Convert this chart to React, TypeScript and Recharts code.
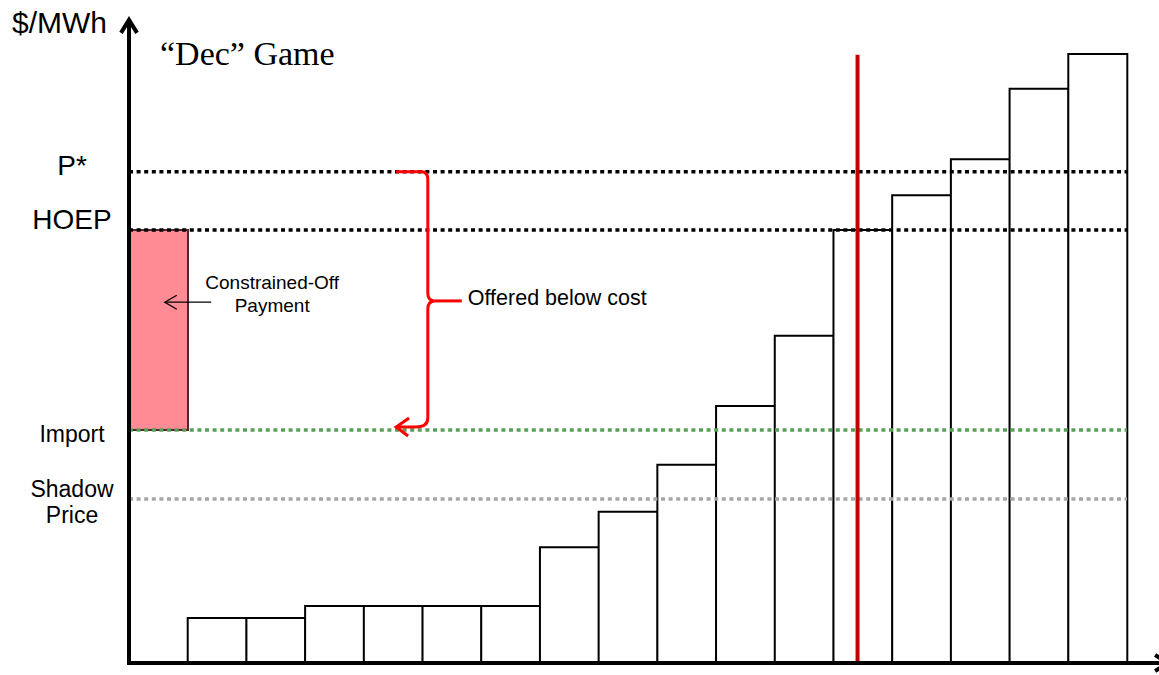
import React from "react";
import { BarChart, Bar, Cell, XAxis, YAxis, ReferenceLine } from "recharts";

// offer blocks, left to right (first one is the import's constrained-off block)
const BLOCKS = ["1", "2", "3", "4", "5", "6", "7", "8", "9", "10", "11", "12", "13", "14", "15", "16", "17"];
const BLOCK_LOW = [36.8, 0, 0, 0, 0, 0, 0, 0, 0, 0, 0, 0, 0, 0, 0, 0, 0];
const BLOCK_HIGH = [68.4, 7.1, 7.1, 9.0, 9.0, 9.0, 9.0, 18.3, 23.9, 31.3, 40.6, 51.7, 68.4, 73.9, 79.6, 90.7, 96.2];

// price levels on the y axis
const LEVEL_NAMES = ["P*", "HOEP", "Import", "Shadow Price"];
const LEVEL_VALUES = [77.6, 68.4, 36.8, 25.9];

const DISPATCH_X = 12.41; // red line position, in blocks
const DISPATCH_TOP = 96.1;
const BRACE_X = [4.55, 5.09];
const PAYMENT_ARROW = [0.61, 1.4];
const PAYMENT_Y = 57.0;

const TITLE = "\u201CDec\u201D Game";
const Y_UNIT = "$/MWh";
const BRACE_LABEL = "Offered below cost";
const PAYMENT_LABEL = ["Constrained-Off", "Payment"];

const SANS = "'Liberation Sans', Arial, sans-serif";
const LEVEL_COLORS = ["#000000", "#000000", "#5a9e5a", "#a6a6a6"];
const LEVEL_FONT = [28, 28, 23, 23];
const LEVEL_DY = [3, -1, 12, -2];

const data = BLOCKS.map((name, i) => ({
  name,
  pos: i + 0.5,
  base: BLOCK_LOW[i],
  span: BLOCK_HIGH[i] - BLOCK_LOW[i],
}));

const LevelTick = (props: any) => {
  const { y, payload } = props;
  const i = LEVEL_VALUES.indexOf(payload.value);
  if (i < 0) return <g />;
  const words = LEVEL_NAMES[i].split(" ");
  return (
    <text
      x={73}
      y={y + LEVEL_DY[i]}
      textAnchor="middle"
      fontSize={LEVEL_FONT[i]}
      fontFamily={SANS}
      fill="#000"
    >
      {words.map((w, k) => (
        <tspan key={k} x={72} dy={k === 0 ? 0 : 26}>
          {w}
        </tspan>
      ))}
    </text>
  );
};

const YAxisArrow = (p: any) => (
  <g>
    <line x1={p.x1} y1={p.y1 + 2} x2={p.x2} y2={p.y2 + 2} stroke="#000" strokeWidth={4} />
    <polyline
      points={`${p.x2 - 8},${p.y2 + 13} ${p.x2},${p.y2} ${p.x2 + 8},${p.y2 + 13}`}
      fill="none"
      stroke="#000"
      strokeWidth={4}
    />
  </g>
);

const XAxisArrow = (p: any) => (
  <g>
    <line x1={p.x1 - 2} y1={p.y1} x2={p.x2 - 2} y2={p.y2} stroke="#000" strokeWidth={4} />
    <polyline
      points={`${p.x2 - 13},${p.y2 - 8} ${p.x2},${p.y2} ${p.x2 - 13},${p.y2 + 8}`}
      fill="none"
      stroke="#000"
      strokeWidth={4}
    />
  </g>
);

const Brace = (p: any) => {
  const x1 = p.x1;
  const top = p.y1;
  const x2 = p.x2;
  const bot = p.y2;
  const mid = (top + bot) / 2;
  const d =
    `M ${x1} ${top} H ${x2 - 6} Q ${x2} ${top} ${x2} ${top + 8} ` +
    `V ${mid - 8} Q ${x2} ${mid} ${x2 + 7} ${mid} Q ${x2} ${mid} ${x2} ${mid + 8} ` +
    `V ${bot - 12} Q ${x2} ${bot - 3} ${x2 - 12} ${bot - 3} L ${x1} ${bot - 3}`;
  return (
    <g>
      <path d={d} fill="none" stroke="#ff0000" strokeWidth={3} />
      <path d={`M ${x2 + 7} ${mid} H ${x2 + 34}`} stroke="#ff0000" strokeWidth={3} />
      <polyline
        points={`${x1 + 13},${bot - 12} ${x1},${bot - 3} ${x1 + 12},${bot + 6}`}
        fill="none"
        stroke="#ff0000"
        strokeWidth={3}
      />
      <text x={x2 + 40} y={mid + 4} fontSize={21.5} fontFamily={SANS} fill="#000">
        {BRACE_LABEL}
      </text>
    </g>
  );
};

const PaymentArrow = (p: any) => {
  const tip = p.x1;
  const tail = p.x2;
  const y = p.y1;
  return (
    <g>
      <line x1={tail} y1={y} x2={tip} y2={y} stroke="#000" strokeWidth={1.3} />
      <polyline
        points={`${tip + 12},${y - 7} ${tip},${y} ${tip + 12},${y + 7}`}
        fill="none"
        stroke="#000"
        strokeWidth={1.3}
      />
      <text x={tail + 61} y={y - 13} textAnchor="middle" fontSize={19} fontFamily={SANS} fill="#000">
        {PAYMENT_LABEL[0]}
      </text>
      <text x={tail + 61} y={y + 10} textAnchor="middle" fontSize={19} fontFamily={SANS} fill="#000">
        {PAYMENT_LABEL[1]}
      </text>
    </g>
  );
};

export default function App() {
  return (
    <div style={{ position: "absolute", left: 0, top: 0, width: 1159, height: 675, background: "#fff" }}>
      <BarChart
        width={1159}
        height={675}
        data={data}
        margin={{ top: 30, right: 32, bottom: 12, left: 0 }}
        barCategoryGap={0}
        barGap={0}
      >
        <XAxis dataKey="name" hide height={0} />
        <XAxis
          xAxisId="num"
          dataKey="pos"
          type="number"
          domain={[0, 17]}
          allowDataOverflow
          ticks={[0, 1]}
          tick={false}
          axisLine={false}
          tickLine={{ stroke: "#000", strokeWidth: 1.5 }}
          tickSize={12}
          height={0}
        />
        <YAxis
          width={129}
          domain={[0, 100]}
          allowDataOverflow
          ticks={LEVEL_VALUES}
          interval={0}
          axisLine={false}
          tickLine={false}
          tick={<LevelTick />}
        />
        <Bar dataKey="base" stackId="a" fill="none" stroke="none" isAnimationActive={false} />
        <Bar dataKey="span" stackId="a" isAnimationActive={false}>
          {data.map((_, i) => (
            <Cell
              key={i}
              fill={i === 0 ? "#ff8b94" : "#ffffff"}
              stroke={i === 0 ? "#4a2a2a" : "#000000"}
              strokeWidth={2}
            />
          ))}
        </Bar>
        {LEVEL_VALUES.map((v, i) => (
          <ReferenceLine
            key={LEVEL_NAMES[i]}
            y={v}
            stroke={LEVEL_COLORS[i]}
            strokeWidth={3.5}
            strokeDasharray="4 3.6"
          />
        ))}
        <ReferenceLine
          xAxisId="num"
          segment={[
            { x: DISPATCH_X, y: 0 },
            { x: DISPATCH_X, y: DISPATCH_TOP },
          ]}
          stroke="#c00000"
          strokeWidth={4}
          ifOverflow="visible"
        />
        <ReferenceLine
          xAxisId="num"
          segment={[
            { x: BRACE_X[0], y: LEVEL_VALUES[0] },
            { x: BRACE_X[1], y: LEVEL_VALUES[2] },
          ]}
          ifOverflow="visible"
          shape={Brace}
        />
        <ReferenceLine
          xAxisId="num"
          segment={[
            { x: PAYMENT_ARROW[0], y: PAYMENT_Y },
            { x: PAYMENT_ARROW[1], y: PAYMENT_Y },
          ]}
          ifOverflow="visible"
          shape={PaymentArrow}
        />
        <ReferenceLine
          xAxisId="num"
          segment={[
            { x: 0, y: 0 },
            { x: 0, y: 101.6 },
          ]}
          ifOverflow="visible"
          shape={YAxisArrow}
        />
        <ReferenceLine
          xAxisId="num"
          segment={[
            { x: 0, y: 0 },
            { x: 17.7, y: 0 },
          ]}
          ifOverflow="visible"
          shape={XAxisArrow}
        />
      </BarChart>
      <svg
        width={1159}
        height={675}
        style={{ position: "absolute", left: 0, top: 0, pointerEvents: "none" }}
      >
        <text x={12} y={33} fontSize={30} fontFamily={SANS} fill="#000">
          {Y_UNIT}
        </text>
        <text x={160} y={65} fontSize={34} fontFamily="'Liberation Serif', 'Times New Roman', serif" fill="#000">
          {TITLE}
        </text>
      </svg>
    </div>
  );
}
